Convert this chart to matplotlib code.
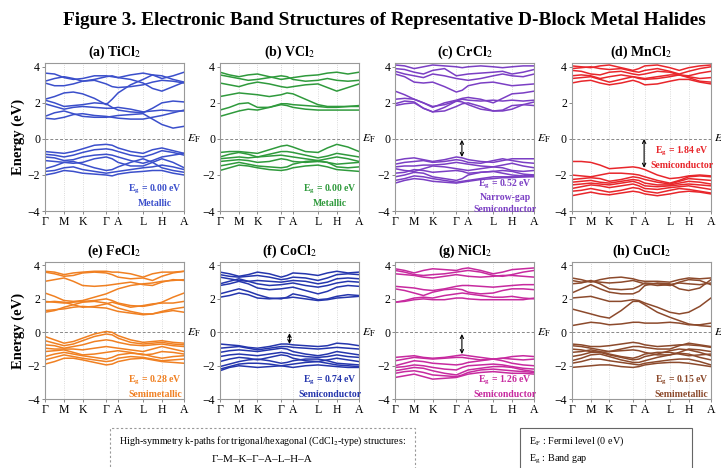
import numpy as np
import matplotlib
matplotlib.use("Agg")
import matplotlib.pyplot as plt
from matplotlib.patches import Rectangle

plt.rcParams['font.family'] = ['Liberation Serif', 'DejaVu Serif']
plt.rcParams['mathtext.fontset'] = 'stix'

# --------------------------------------------
# k-path and band data (eV, relative to E_F)
# --------------------------------------------

k_labels = ['Γ', 'M', 'K', 'Γ', 'A', 'L', 'H', 'A']
k_ticks = [0.0, 0.137, 0.27, 0.44, 0.525, 0.705, 0.84, 1.0]

# bands sampled at each high-symmetry point and the midpoint of every segment
ticl2_bands = [
    [3.65, 3.6, 3.4, 3.3, 3.35, 3.5, 3.5, 3.45, 3.4, 3.55, 3.65, 3.55, 3.35, 3.5, 3.7],
    [3.2, 3.35, 3.45, 3.35, 3.2, 3.3, 3.45, 3.5, 3.4, 3.3, 3.1, 2.8, 2.65, 2.9, 3.15],
    [3.1, 2.95, 2.95, 3.05, 3.2, 3.25, 3.05, 2.9, 2.85, 2.9, 3.0, 3.15, 3.25, 3.2, 3.1],
    [2.2, 2.35, 2.55, 2.6, 2.5, 2.25, 1.9, 2.2, 2.55, 3.0, 3.3, 3.55, 3.5, 3.3, 3.15],
    [2.15, 2.0, 1.8, 1.85, 1.9, 2.0, 1.95, 1.75, 1.6, 1.5, 1.45, 1.7, 2.0, 2.1, 2.05],
    [1.95, 1.8, 1.65, 1.75, 1.8, 1.75, 1.7, 1.7, 1.75, 1.65, 1.5, 1.55, 1.6, 1.55, 1.55],
    [1.25, 1.45, 1.55, 1.4, 1.25, 1.2, 1.2, 1.25, 1.3, 1.35, 1.4, 1.1, 0.8, 0.6, 0.7],
    [1.15, 1.1, 1.2, 1.35, 1.4, 1.3, 1.25, 1.2, 1.15, 1.1, 1.1, 1.2, 1.3, 1.45, 1.6],
    [-0.7, -0.75, -0.8, -0.7, -0.55, -0.35, -0.3, -0.35, -0.5, -0.7, -0.8, -0.6, -0.5, -0.65, -0.8],
    [-0.85, -0.9, -1.0, -0.9, -0.75, -0.6, -0.55, -0.6, -0.7, -0.9, -1.0, -0.85, -0.65, -0.75, -0.9],
    [-1.0, -1.05, -1.2, -1.15, -1.0, -0.9, -0.85, -0.9, -1.0, -1.2, -1.35, -1.2, -1.0, -0.9, -0.8],
    [-1.2, -1.25, -1.3, -1.35, -1.3, -1.1, -1.0, -1.1, -1.3, -1.5, -1.5, -1.3, -1.1, -1.3, -1.6],
    [-1.65, -1.5, -1.3, -1.25, -1.4, -1.6, -1.75, -1.7, -1.55, -1.3, -1.1, -1.3, -1.6, -1.75, -1.85],
    [-1.8, -1.75, -1.6, -1.55, -1.7, -1.8, -1.9, -1.85, -1.8, -1.7, -1.6, -1.55, -1.45, -1.55, -1.7],
    [-2.0, -1.9, -1.75, -1.8, -1.9, -1.95, -2.0, -2.05, -1.95, -1.85, -1.8, -1.75, -1.75, -1.9, -2.0],
]

vcl2_bands = [
    [3.7, 3.55, 3.45, 3.55, 3.6, 3.45, 3.3, 3.35, 3.4, 3.5, 3.55, 3.65, 3.7, 3.6, 3.7],
    [3.55, 3.45, 3.35, 3.25, 3.3, 3.4, 3.5, 3.45, 3.3, 3.2, 3.25, 3.35, 3.25, 3.2, 3.25],
    [3.1, 3.0, 2.9, 3.05, 3.15, 3.05, 2.9, 2.85, 2.9, 3.0, 3.05, 2.85, 2.65, 2.85, 3.05],
    [2.35, 2.45, 2.55, 2.5, 2.45, 2.35, 2.45, 2.55, 2.5, 2.2, 1.9, 1.8, 1.8, 1.8, 1.8],
    [1.6, 1.75, 1.95, 2.0, 1.75, 1.75, 1.95, 1.95, 1.9, 1.85, 1.8, 1.75, 1.75, 1.8, 1.85],
    [1.25, 1.4, 1.55, 1.65, 1.6, 1.75, 1.9, 1.85, 1.75, 1.65, 1.6, 1.6, 1.6, 1.6, 1.6],
    [-0.75, -0.7, -0.7, -0.75, -0.8, -0.6, -0.4, -0.35, -0.45, -0.7, -0.75, -0.5, -0.3, -0.45, -0.7],
    [-1.0, -0.85, -0.75, -0.85, -1.0, -0.85, -0.7, -0.7, -0.75, -0.9, -1.05, -0.95, -0.8, -0.9, -1.0],
    [-1.1, -1.05, -1.0, -1.05, -1.0, -0.95, -0.9, -0.95, -1.0, -1.1, -1.2, -1.1, -1.0, -1.1, -1.25],
    [-1.25, -1.2, -1.15, -1.2, -1.3, -1.25, -1.1, -1.15, -1.25, -1.3, -1.25, -1.3, -1.4, -1.35, -1.3],
    [-1.5, -1.4, -1.3, -1.4, -1.5, -1.55, -1.6, -1.55, -1.4, -1.25, -1.2, -1.3, -1.55, -1.6, -1.55],
    [-1.75, -1.6, -1.45, -1.5, -1.6, -1.7, -1.75, -1.7, -1.6, -1.5, -1.45, -1.55, -1.7, -1.75, -1.8],
]

crcl2_bands = [
    [4.1, 4.05, 3.9, 4.0, 4.1, 4.05, 4.0, 3.95, 4.0, 4.05, 4.0, 3.95, 4.0, 4.05, 4.05],
    [3.9, 3.85, 3.7, 3.6, 3.8, 3.9, 3.5, 3.55, 3.6, 3.65, 3.7, 3.75, 3.6, 3.7, 3.85],
    [3.75, 3.6, 3.5, 3.4, 3.6, 3.5, 3.35, 3.3, 3.25, 3.35, 3.5, 3.6, 3.5, 3.45, 3.6],
    [3.6, 3.45, 3.15, 3.1, 3.15, 2.9, 2.6, 2.7, 2.95, 3.1, 3.15, 3.05, 2.95, 3.0, 3.05],
    [2.65, 2.45, 2.2, 2.0, 1.75, 2.0, 2.15, 2.25, 2.3, 2.2, 2.0, 2.25, 2.5, 2.55, 2.65],
    [2.2, 2.25, 2.2, 2.0, 1.8, 1.9, 2.1, 2.2, 2.15, 2.1, 2.15, 2.1, 2.15, 2.1, 2.15],
    [1.95, 2.1, 2.05, 1.7, 1.5, 1.75, 2.1, 2.05, 1.9, 1.65, 1.55, 1.55, 1.65, 1.9, 2.05],
    [1.85, 1.95, 2.0, 1.7, 1.5, 1.55, 1.8, 1.95, 2.0, 1.8, 1.55, 1.6, 1.85, 1.9, 1.85],
    [-1.2, -1.1, -1.05, -1.15, -1.25, -1.15, -1.0, -1.05, -1.15, -1.25, -1.3, -1.2, -1.1, -1.1, -1.1],
    [-1.4, -1.3, -1.25, -1.2, -1.3, -1.25, -1.15, -1.2, -1.3, -1.35, -1.2, -1.1, -1.2, -1.3, -1.35],
    [-1.55, -1.5, -1.5, -1.45, -1.45, -1.4, -1.3, -1.35, -1.4, -1.5, -1.55, -1.45, -1.35, -1.5, -1.6],
    [-1.65, -1.75, -1.8, -1.65, -1.5, -1.55, -1.65, -1.7, -1.75, -1.65, -1.55, -1.6, -1.75, -1.8, -1.75],
    [-1.9, -1.85, -1.7, -1.75, -1.85, -1.8, -1.75, -1.8, -1.9, -1.85, -1.8, -1.75, -1.8, -1.95, -2.0],
    [-2.1, -2.0, -1.85, -1.9, -2.1, -2.2, -2.3, -2.2, -2.0, -1.85, -1.8, -1.9, -2.0, -2.05, -2.0],
    [-2.3, -2.2, -2.05, -2.1, -2.2, -2.3, -2.4, -2.35, -2.3, -2.2, -2.1, -2.1, -2.1, -2.1, -2.05],
    [-2.45, -2.3, -2.2, -2.25, -2.35, -2.4, -2.45, -2.4, -2.35, -2.25, -2.2, -2.15, -2.15, -2.1, -2.1],
]

mncl2_bands = [
    [4.05, 4.0, 3.95, 4.05, 4.1, 3.95, 3.8, 3.9, 4.05, 4.1, 3.95, 3.8, 3.95, 4.05, 4.1],
    [3.9, 3.95, 4.0, 3.9, 3.85, 3.9, 3.75, 3.7, 3.8, 3.9, 3.75, 3.6, 3.75, 3.9, 4.0],
    [3.8, 3.75, 3.6, 3.55, 3.7, 3.75, 3.6, 3.55, 3.6, 3.75, 3.7, 3.55, 3.5, 3.65, 3.75],
    [3.5, 3.55, 3.5, 3.35, 3.45, 3.55, 3.45, 3.4, 3.35, 3.45, 3.55, 3.55, 3.45, 3.35, 3.4],
    [3.35, 3.4, 3.45, 3.3, 3.15, 3.3, 3.45, 3.35, 3.3, 3.35, 3.45, 3.55, 3.4, 3.2, 3.15],
    [3.1, 3.2, 3.25, 3.1, 3.0, 3.1, 3.25, 3.15, 3.0, 3.05, 3.2, 3.3, 3.3, 3.15, 3.05],
    [-1.25, -1.25, -1.3, -1.45, -1.65, -1.6, -1.55, -1.6, -1.7, -2.0, -2.2, -2.15, -2.05, -2.0, -2.05],
    [-2.0, -2.05, -2.1, -2.0, -1.9, -1.9, -1.95, -2.0, -2.1, -2.3, -2.45, -2.3, -2.1, -2.05, -2.1],
    [-2.25, -2.2, -2.15, -2.2, -2.35, -2.25, -2.1, -2.15, -2.25, -2.4, -2.5, -2.35, -2.2, -2.25, -2.3],
    [-2.4, -2.35, -2.3, -2.4, -2.45, -2.35, -2.25, -2.3, -2.45, -2.55, -2.55, -2.45, -2.35, -2.4, -2.5],
    [-2.55, -2.5, -2.45, -2.5, -2.55, -2.45, -2.35, -2.45, -2.6, -2.65, -2.6, -2.55, -2.5, -2.55, -2.6],
    [-2.75, -2.65, -2.55, -2.6, -2.7, -2.6, -2.5, -2.6, -2.75, -2.8, -2.7, -2.65, -2.6, -2.7, -2.8],
    [-2.9, -2.85, -2.75, -2.85, -2.95, -2.85, -2.7, -2.75, -2.9, -3.0, -2.85, -2.75, -2.8, -2.9, -3.0],
    [-3.15, -3.05, -2.95, -3.05, -3.1, -3.0, -2.9, -2.95, -3.05, -3.15, -3.05, -2.95, -2.9, -2.95, -3.05],
]

fecl2_bands = [
    [3.65, 3.6, 3.45, 3.55, 3.6, 3.65, 3.65, 3.6, 3.6, 3.5, 3.3, 3.5, 3.6, 3.6, 3.65],
    [3.6, 3.5, 3.35, 3.4, 3.55, 3.6, 3.55, 3.45, 3.3, 3.2, 3.25, 3.1, 3.35, 3.55, 3.65],
    [3.05, 3.15, 3.25, 3.05, 2.8, 2.75, 2.8, 2.85, 2.9, 3.0, 2.85, 2.8, 3.0, 3.15, 3.1],
    [2.35, 2.15, 1.9, 1.85, 1.9, 2.1, 2.3, 2.45, 2.6, 2.8, 2.9, 2.95, 3.05, 3.1, 3.15],
    [1.85, 1.8, 1.75, 1.8, 1.85, 1.9, 2.0, 1.9, 1.75, 1.6, 1.55, 1.65, 1.8, 2.1, 2.35],
    [1.8, 1.85, 1.8, 1.65, 1.5, 1.55, 1.7, 1.8, 1.7, 1.5, 1.6, 1.7, 1.75, 1.75, 1.85],
    [1.2, 1.3, 1.5, 1.65, 1.8, 1.85, 1.75, 1.6, 1.45, 1.25, 1.1, 1.1, 1.2, 1.3, 1.2],
    [1.3, 1.35, 1.4, 1.5, 1.55, 1.5, 1.45, 1.35, 1.25, 1.15, 1.05, 1.1, 1.25, 1.4, 1.5],
    [-0.25, -0.45, -0.65, -0.55, -0.35, -0.1, 0.05, 0.0, -0.2, -0.45, -0.6, -0.55, -0.5, -0.6, -0.65],
    [-0.5, -0.65, -0.8, -0.7, -0.5, -0.25, -0.1, -0.15, -0.35, -0.6, -0.7, -0.65, -0.6, -0.7, -0.75],
    [-0.75, -0.8, -0.95, -0.85, -0.75, -0.55, -0.45, -0.5, -0.6, -0.75, -0.8, -0.75, -0.7, -0.8, -0.85],
    [-0.95, -1.0, -1.0, -1.0, -1.05, -0.95, -0.85, -0.9, -0.95, -1.05, -1.15, -1.0, -0.85, -1.0, -1.15],
    [-1.15, -1.1, -1.05, -1.2, -1.35, -1.3, -1.2, -1.15, -1.1, -1.2, -1.35, -1.3, -1.15, -1.2, -1.3],
    [-1.45, -1.3, -1.2, -1.3, -1.4, -1.5, -1.6, -1.5, -1.35, -1.25, -1.3, -1.45, -1.55, -1.45, -1.4],
    [-1.65, -1.5, -1.35, -1.45, -1.55, -1.65, -1.75, -1.7, -1.55, -1.45, -1.5, -1.6, -1.7, -1.65, -1.6],
    [-1.9, -1.75, -1.55, -1.55, -1.65, -1.8, -1.95, -1.9, -1.75, -1.6, -1.55, -1.65, -1.75, -1.8, -1.85],
]

cocl2_bands = [
    [3.6, 3.5, 3.35, 3.45, 3.6, 3.5, 3.3, 3.4, 3.55, 3.5, 3.4, 3.55, 3.65, 3.55, 3.6],
    [3.45, 3.35, 3.3, 3.35, 3.4, 3.3, 3.15, 3.2, 3.3, 3.25, 3.1, 3.25, 3.45, 3.5, 3.45],
    [3.3, 3.2, 3.1, 3.05, 3.1, 3.05, 3.0, 3.05, 3.1, 3.05, 2.9, 3.0, 3.2, 3.25, 3.2],
    [2.9, 3.05, 3.2, 3.05, 2.9, 2.8, 2.85, 2.9, 2.95, 2.8, 2.7, 2.8, 2.95, 3.05, 3.0],
    [2.8, 2.9, 3.05, 2.9, 2.65, 2.55, 2.6, 2.65, 2.7, 2.5, 2.3, 2.45, 2.7, 2.8, 2.75],
    [2.3, 2.45, 2.6, 2.45, 2.25, 2.05, 2.0, 2.1, 2.3, 2.15, 1.95, 2.0, 2.15, 2.25, 2.2],
    [2.1, 2.2, 2.35, 2.25, 2.05, 2.0, 2.05, 2.05, 2.1, 2.0, 1.9, 1.95, 2.05, 2.1, 2.15],
    [-0.7, -0.75, -0.8, -0.9, -0.95, -0.85, -0.7, -0.7, -0.75, -0.8, -0.85, -0.8, -0.65, -0.7, -0.8],
    [-0.95, -0.9, -0.85, -0.95, -1.05, -0.95, -0.85, -0.85, -0.9, -0.95, -1.0, -0.95, -0.9, -0.95, -1.0],
    [-1.2, -1.1, -1.05, -1.1, -1.15, -1.05, -0.95, -1.0, -1.15, -1.3, -1.4, -1.3, -1.15, -1.25, -1.35],
    [-1.45, -1.35, -1.3, -1.35, -1.4, -1.3, -1.2, -1.25, -1.35, -1.45, -1.5, -1.45, -1.35, -1.45, -1.5],
    [-1.75, -1.6, -1.5, -1.55, -1.65, -1.5, -1.35, -1.4, -1.55, -1.7, -1.75, -1.65, -1.55, -1.65, -1.75],
    [-2.05, -1.9, -1.75, -1.65, -1.6, -1.7, -1.85, -1.8, -1.7, -1.6, -1.6, -1.7, -1.85, -1.9, -1.95],
    [-2.2, -2.05, -1.9, -1.85, -1.85, -1.9, -2.0, -1.95, -1.9, -1.8, -1.75, -1.85, -1.95, -2.0, -2.05],
    [-2.3, -2.1, -2.0, -2.05, -2.1, -2.05, -2.0, -2.05, -2.1, -2.0, -1.95, -2.0, -2.05, -2.1, -2.1],
]

nicl2_bands = [
    [3.8, 3.7, 3.55, 3.7, 3.8, 3.75, 3.7, 3.8, 3.85, 3.7, 3.5, 3.6, 3.75, 3.8, 3.85],
    [3.7, 3.6, 3.45, 3.4, 3.45, 3.5, 3.6, 3.65, 3.7, 3.6, 3.4, 3.35, 3.45, 3.6, 3.7],
    [3.5, 3.45, 3.4, 3.3, 3.25, 3.35, 3.45, 3.4, 3.35, 3.3, 3.35, 3.4, 3.4, 3.35, 3.3],
    [2.75, 2.7, 2.65, 2.55, 2.5, 2.6, 2.75, 2.8, 2.8, 2.75, 2.7, 2.75, 2.8, 2.85, 2.85],
    [2.6, 2.5, 2.35, 2.2, 2.4, 2.55, 2.6, 2.55, 2.4, 2.3, 2.35, 2.5, 2.6, 2.6, 2.55],
    [1.8, 1.9, 2.05, 2.1, 2.05, 2.2, 2.3, 2.35, 2.3, 2.2, 2.1, 2.1, 2.15, 2.05, 2.0],
    [1.8, 1.85, 1.95, 2.0, 1.95, 1.95, 2.05, 2.05, 2.0, 1.95, 1.95, 1.95, 1.95, 1.95, 2.05],
    [-1.5, -1.45, -1.4, -1.5, -1.55, -1.5, -1.4, -1.35, -1.4, -1.5, -1.6, -1.55, -1.45, -1.4, -1.45],
    [-1.7, -1.6, -1.5, -1.55, -1.6, -1.55, -1.5, -1.5, -1.55, -1.65, -1.6, -1.55, -1.6, -1.65, -1.6],
    [-2.0, -1.85, -1.7, -1.75, -1.85, -1.9, -1.95, -1.9, -1.8, -1.7, -1.6, -1.7, -1.85, -1.95, -2.0],
    [-2.1, -2.05, -1.95, -2.0, -2.1, -2.2, -2.25, -2.1, -2.0, -1.95, -1.9, -1.95, -2.05, -2.15, -2.2],
    [-2.3, -2.2, -2.1, -2.15, -2.3, -2.45, -2.55, -2.4, -2.25, -2.15, -2.05, -2.05, -2.1, -2.25, -2.35],
    [-2.45, -2.35, -2.3, -2.4, -2.55, -2.6, -2.65, -2.55, -2.4, -2.25, -2.2, -2.25, -2.3, -2.35, -2.4],
    [-2.7, -2.6, -2.5, -2.65, -2.8, -2.75, -2.7, -2.6, -2.5, -2.4, -2.35, -2.4, -2.45, -2.45, -2.5],
]

cucl2_bands = [
    [3.25, 3.15, 3.0, 3.15, 3.25, 3.3, 3.2, 3.1, 3.05, 3.05, 3.0, 3.15, 3.25, 3.2, 3.25],
    [3.1, 3.0, 3.05, 3.0, 2.95, 3.0, 3.1, 3.0, 2.9, 2.8, 2.85, 2.95, 2.9, 2.85, 2.95],
    [2.9, 2.95, 3.1, 2.9, 2.6, 2.55, 2.6, 2.75, 2.95, 2.9, 2.8, 3.0, 3.15, 3.1, 2.85],
    [2.35, 2.6, 2.85, 2.6, 2.4, 2.3, 2.3, 2.45, 2.8, 2.95, 2.9, 2.6, 2.5, 2.65, 3.15],
    [2.05, 2.1, 2.15, 2.0, 1.85, 1.85, 1.95, 1.9, 1.75, 1.5, 1.2, 1.1, 1.2, 1.55, 2.05],
    [1.4, 1.25, 1.1, 0.95, 0.85, 1.3, 1.85, 1.85, 1.65, 1.2, 0.9, 0.7, 0.5, 0.4, 0.35],
    [0.4, 0.5, 0.6, 0.55, 0.45, 0.5, 0.6, 0.6, 0.55, 0.55, 0.6, 0.55, 0.45, 0.45, 0.55],
    [-0.7, -0.75, -0.85, -0.85, -0.8, -0.7, -0.6, -0.65, -0.75, -0.85, -0.8, -0.75, -0.75, -0.8, -0.9],
    [-0.8, -0.85, -0.95, -1.05, -1.15, -1.0, -0.85, -0.85, -0.9, -1.0, -1.0, -0.8, -0.65, -0.75, -0.85],
    [-1.0, -1.05, -1.15, -1.2, -1.15, -1.1, -1.05, -1.1, -1.2, -1.35, -1.35, -1.2, -1.0, -1.05, -1.15],
    [-1.2, -1.15, -1.05, -1.15, -1.3, -1.45, -1.55, -1.45, -1.3, -1.2, -1.2, -1.3, -1.4, -1.35, -1.3],
    [-1.45, -1.35, -1.2, -1.2, -1.35, -1.5, -1.65, -1.6, -1.45, -1.3, -1.1, -1.0, -1.05, -1.2, -1.4],
    [-1.7, -1.55, -1.35, -1.3, -1.45, -1.65, -1.8, -1.8, -1.7, -1.5, -1.35, -1.25, -1.3, -1.5, -1.65],
    [-1.85, -1.75, -1.6, -1.6, -1.7, -1.8, -1.9, -1.95, -1.85, -1.75, -1.65, -1.6, -1.6, -1.75, -1.95],
    [-2.1, -2.05, -2.0, -1.95, -1.95, -2.05, -2.1, -2.05, -1.95, -1.85, -1.8, -1.8, -1.85, -1.95, -2.05],
]

titles = [r'(a) TiCl$_2$', r'(b) VCl$_2$', r'(c) CrCl$_2$', r'(d) MnCl$_2$',
          r'(e) FeCl$_2$', r'(f) CoCl$_2$', r'(g) NiCl$_2$', r'(h) CuCl$_2$']
all_bands = [ticl2_bands, vcl2_bands, crcl2_bands, mncl2_bands,
             fecl2_bands, cocl2_bands, nicl2_bands, cucl2_bands]
colors = ['#3b4fcb', '#2f9a3c', '#7b3fc4', '#e8262b',
          '#f08022', '#2536ad', '#c72a9f', '#8c4a2c']
gaps = ['0.00', '0.00', '0.52', '1.84', '0.28', '0.74', '1.26', '0.15']
kinds = ['Metallic', 'Metallic', 'Narrow-gap\nSemiconductor', 'Semiconductor',
         'Semimetallic', 'Semiconductor', 'Semiconductor', 'Semimetallic']
# vertical gap arrows: (k position, top, bottom) or None
gap_arrows = [None, None, (0.48, -0.05, -1.0), (0.52, 0.0, -1.6),
              None, (0.50, -0.05, -0.7), (0.48, -0.1, -1.3), None]
# top of the gap annotation block
label_y = [-2.45, -2.45, -2.15, -0.35, -2.5, -2.5, -2.5, -2.5]

k_mid = [(a + b) / 2 for a, b in zip(k_ticks[:-1], k_ticks[1:])]
k_samples = np.sort(np.array(k_ticks + k_mid))


# --------------------------------------------
# FIGURE
# --------------------------------------------

fig = plt.figure(figsize=(7.21, 4.68), dpi=100)

fig.text(0.533, 0.957, 'Figure 3. Electronic Band Structures of Representative D-Block Metal Halides',
         ha='center', va='center', fontsize=13.9, fontweight='bold')

lefts = [0.0624, 0.305, 0.548, 0.793]
width = 0.193
rows = [(0.549, 0.316), (0.147, 0.293)]

for i in range(8):
    r, c = divmod(i, 4)
    ax = fig.add_axes([lefts[c], rows[r][0], width, rows[r][1]])
    col = colors[i]

    for band in all_bands[i]:
        ax.plot(k_samples, band, color=col, lw=1.1, solid_joinstyle='round')

    for k in k_ticks[1:-1]:
        ax.axvline(k, color='#cfcfcf', lw=0.6, ls=':', zorder=0)
    ax.axhline(0, color='#888888', lw=0.7, ls=(0, (3, 2)), zorder=1)

    ax.set_xlim(0, 1)
    ax.set_ylim(-4, 4.2)
    ax.set_yticks([-4, -2, 0, 2, 4])
    ax.set_xticks(k_ticks)
    ax.set_xticklabels(k_labels)
    ax.tick_params(labelsize=8.5, length=2, width=0.6, color='#777777', pad=1.5)
    for sp in ax.spines.values():
        sp.set_color('#999999')
        sp.set_linewidth(0.8)

    ax.set_title(titles[i], fontsize=10, fontweight='bold', pad=5)
    if c == 0:
        ax.set_ylabel('Energy (eV)', fontsize=10.5, fontweight='bold', labelpad=2)

    ax.text(1.02, 0, r'$E_\mathrm{F}$', transform=ax.get_yaxis_transform(),
            ha='left', va='center', fontsize=8.5, clip_on=False)

    ax.text(0.79, label_y[i], r'E$_\mathregular{g}$ = ' + gaps[i] + ' eV\n' + kinds[i],
            transform=ax.get_yaxis_transform(), ha='center', va='top',
            fontsize=7, fontweight='bold', color=col, linespacing=1.35)

    if gap_arrows[i] is not None:
        kx, y0, y1 = gap_arrows[i]
        ax.annotate('', xy=(kx, y1), xytext=(kx, y0),
                    arrowprops=dict(arrowstyle='<->', color='black', lw=0.8,
                                    mutation_scale=6, shrinkA=0, shrinkB=0))

# k-path note and symbol key
fig.patches.append(Rectangle((0.153, -0.05), 0.423, 0.1355, transform=fig.transFigure,
                             fill=False, ec='#999999', lw=0.8, ls=(0, (2, 2))))
fig.text(0.364, 0.058, r'High-symmetry k-paths for trigonal/hexagonal (CdCl$_2$-type) structures:',
         ha='center', va='center', fontsize=7.2)
fig.text(0.364, 0.019, 'Γ–M–K–Γ–A–L–H–A', ha='center', va='center', fontsize=8)

fig.patches.append(Rectangle((0.721, -0.05), 0.239, 0.1355, transform=fig.transFigure,
                             fill=False, ec='#666666', lw=0.8))
fig.text(0.734, 0.058, r'E$_\mathregular{F}$ : Fermi level (0 eV)', ha='left', va='center', fontsize=7.3)
fig.text(0.734, 0.019, r'E$_\mathregular{g}$ : Band gap', ha='left', va='center', fontsize=7.3)

fig.savefig('out.png', dpi=100)
